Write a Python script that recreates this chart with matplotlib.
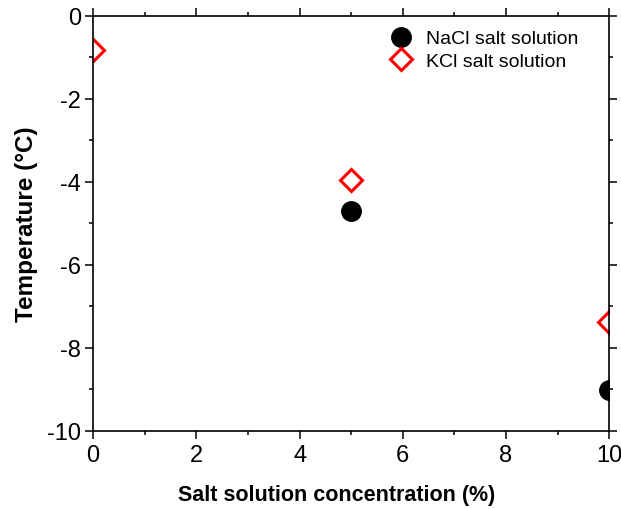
import matplotlib
matplotlib.use("Agg")
import matplotlib.pyplot as plt
from matplotlib.ticker import MultipleLocator

plt.rcParams["font.family"] = ["Liberation Sans", "DejaVu Sans"]
plt.rcParams["axes.unicode_minus"] = False

# freezing point of salt solutions
nacl_conc = [5, 10]
nacl_temp = [-4.7, -9.02]
kcl_conc = [0, 5, 10]
kcl_temp = [-0.82, -3.95, -7.38]

fig = plt.figure(figsize=(6.21, 5.10), dpi=100)
ax = fig.add_axes([0.150, 0.153, 0.831, 0.814])

ax.plot(nacl_conc, nacl_temp, "o", color="black", markersize=14,
        linestyle="none", label="NaCl salt solution")
ax.plot(kcl_conc, kcl_temp, "D", markerfacecolor="white", markeredgecolor="red",
        markeredgewidth=2.2, markersize=11.5, linestyle="none", label="KCl salt solution")

ax.set_xlim(0, 10)
ax.set_ylim(-10, 0)
ax.xaxis.set_major_locator(MultipleLocator(2))
ax.xaxis.set_minor_locator(MultipleLocator(1))
ax.yaxis.set_major_locator(MultipleLocator(2))
ax.yaxis.set_minor_locator(MultipleLocator(1))
ax.tick_params(which="both", direction="out", top=True, right=True,
               labelsize=17, width=1.1)
ax.tick_params(which="major", length=5.5)
ax.tick_params(which="minor", length=3)
ax.tick_params(axis="x", pad=4)
ax.tick_params(axis="y", pad=3)
for s in ax.spines.values():
    s.set_linewidth(1.2)

ax.set_xlabel("Salt solution concentration (%)", fontsize=15.5, fontweight="bold")
ax.xaxis.set_label_coords(0.472, -0.128)
ax.set_ylabel("Temperature (\u00b0C)", fontsize=17.5, fontweight="bold")
ax.yaxis.set_label_coords(-0.106, 0.5)

ax.legend(loc="upper right", frameon=False, fontsize=14, handletextpad=0.3,
          borderaxespad=0.1, labelspacing=0.25, bbox_to_anchor=(0.96, 0.99))

fig.savefig("out.png", dpi=100)
